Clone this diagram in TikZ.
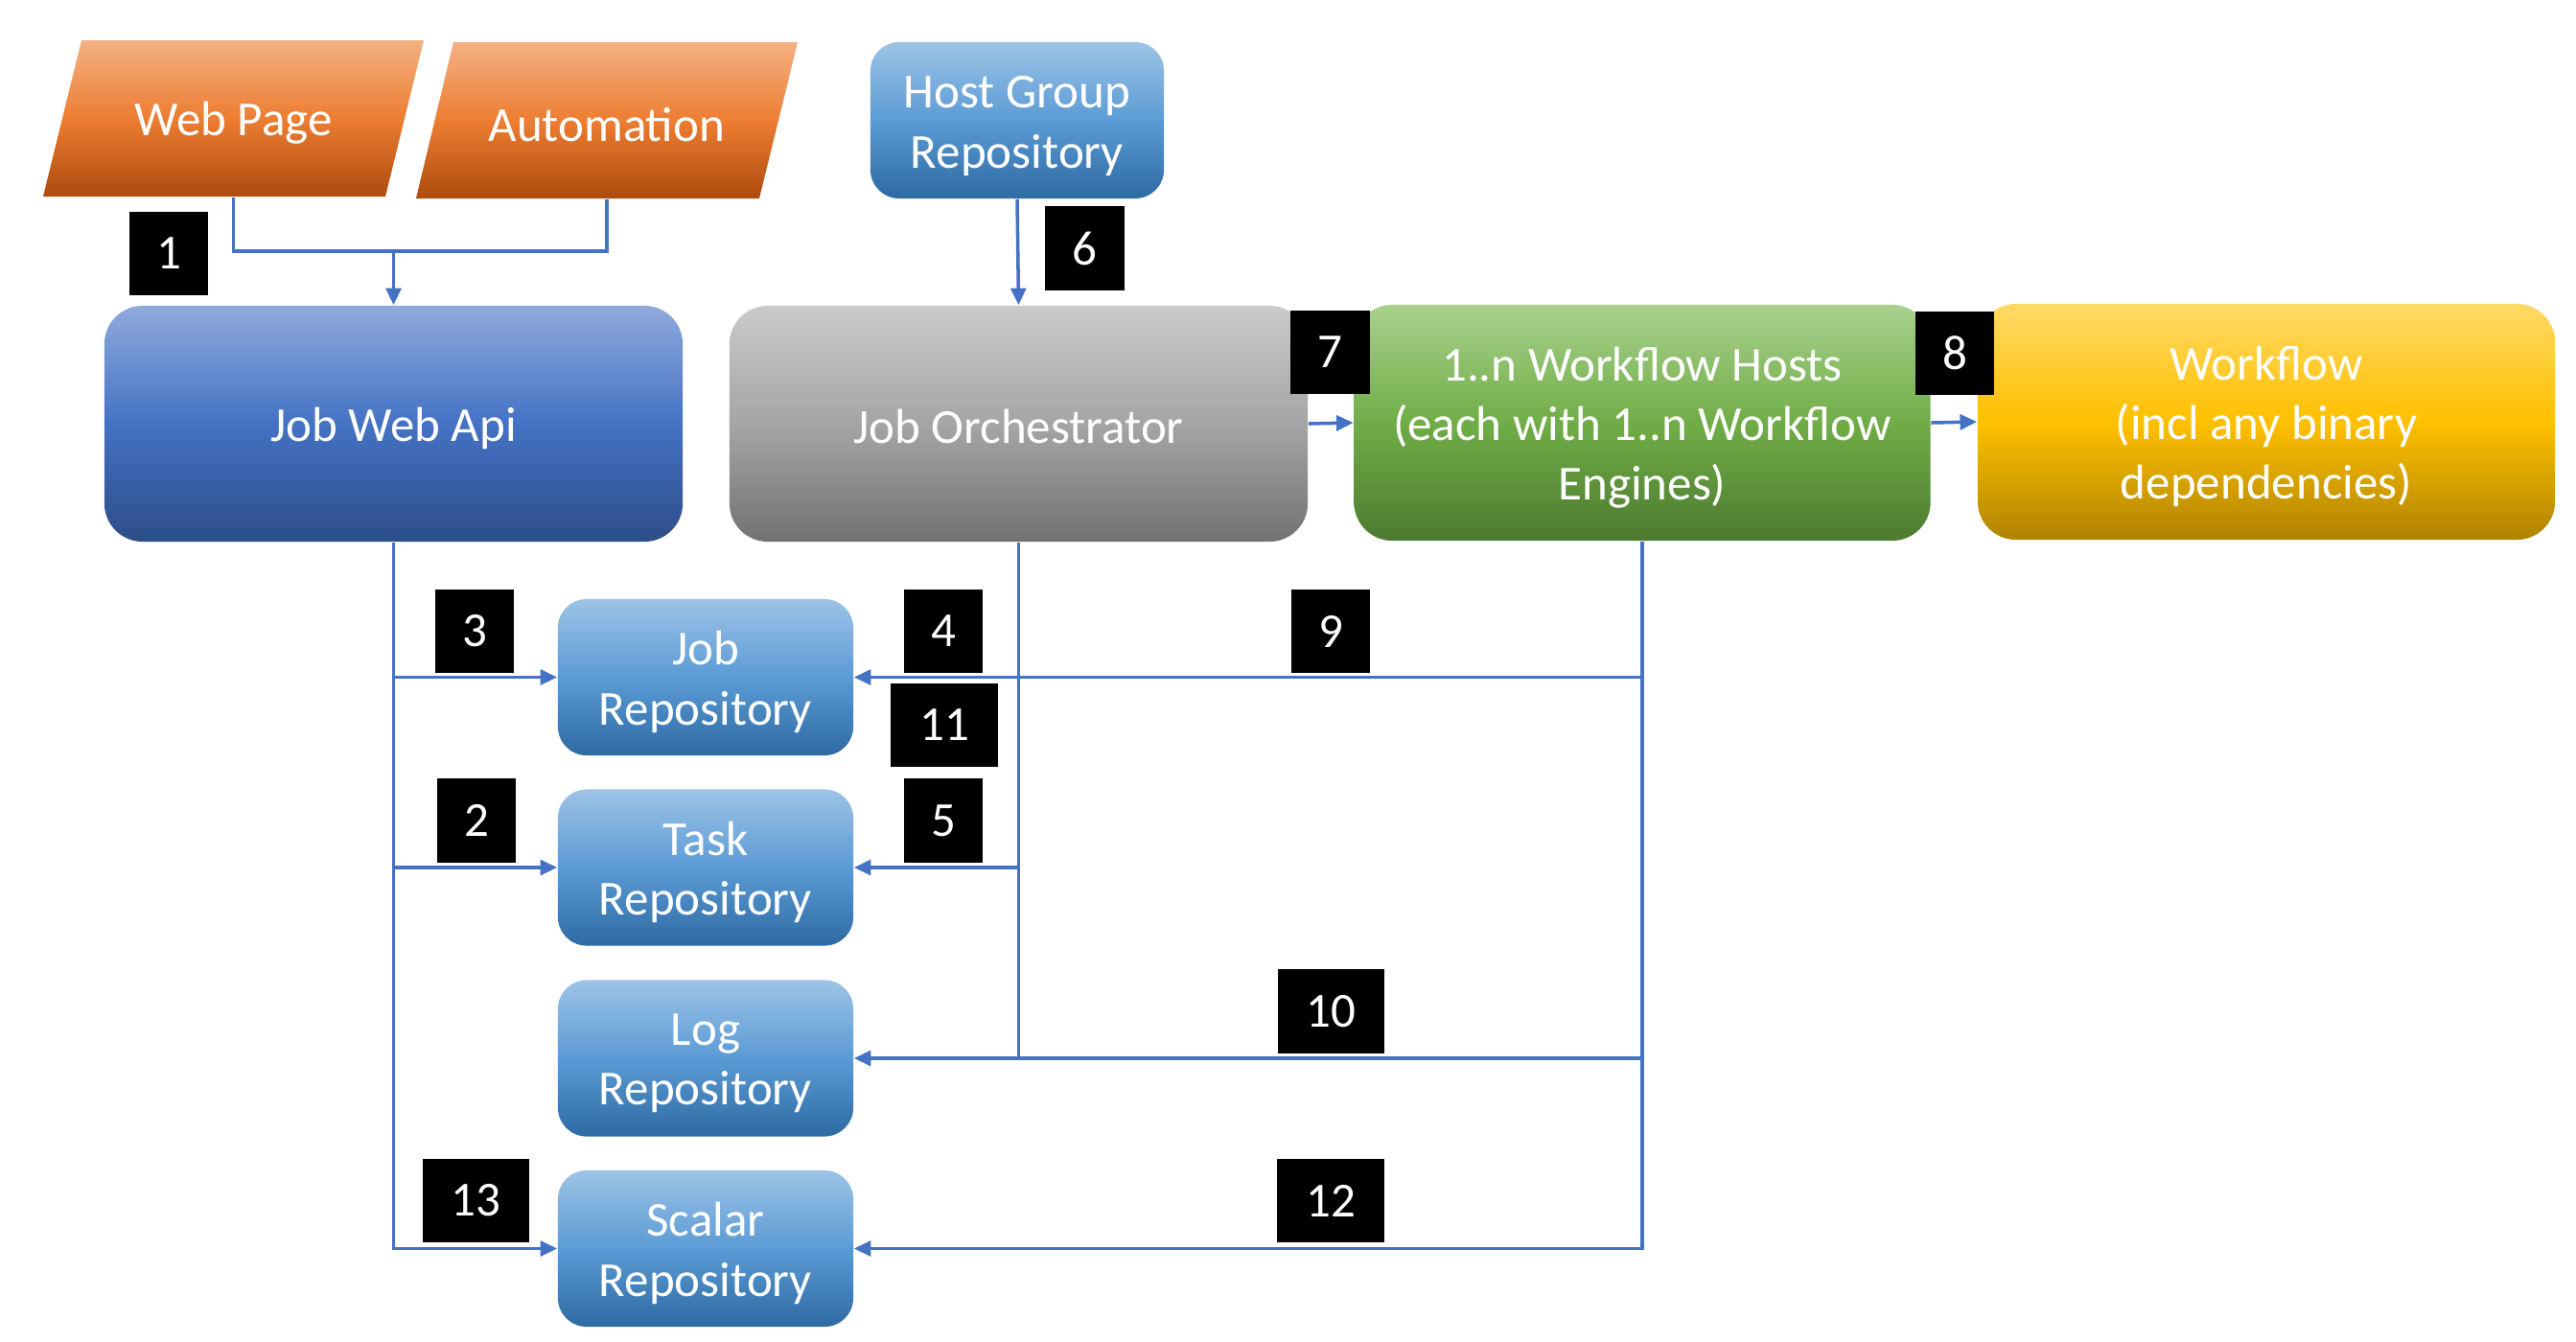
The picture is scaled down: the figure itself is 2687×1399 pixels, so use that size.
\documentclass[tikz,border=0pt]{standalone}
\usepackage{fontspec}
\setmainfont{Carlito}
\usetikzlibrary{arrows.meta}
\definecolor{ln}{HTML}{4472C4}
\definecolor{orT}{HTML}{F4B183}\definecolor{orM}{HTML}{ED7D31}\definecolor{orB}{HTML}{AE4B0E}
\definecolor{bdT}{HTML}{8FAADC}\definecolor{bdM}{HTML}{4472C4}\definecolor{bdB}{HTML}{2C4D88}
\definecolor{lbT}{HTML}{9DC3E6}\definecolor{lbM}{HTML}{5B9BD5}\definecolor{lbB}{HTML}{2E6AA3}
\definecolor{grT}{HTML}{CACACA}\definecolor{grM}{HTML}{A5A5A5}\definecolor{grB}{HTML}{727272}
\definecolor{gnT}{HTML}{A9D18E}\definecolor{gnM}{HTML}{70AD47}\definecolor{gnB}{HTML}{4C7A2F}
\definecolor{ywT}{HTML}{FFD966}\definecolor{ywM}{HTML}{FFC000}\definecolor{ywB}{HTML}{AF8300}
\begin{document}
\begin{tikzpicture}[x=0.01cm,y=-0.01cm,
  txt/.style={text=white, align=center, font=\fontsize{14.5}{17.7}\selectfont, inner sep=0pt},
  bigbox/.style={rounded corners=0.4cm, minimum width=6.03cm, minimum height=2.46cm},
  repo/.style={rounded corners=0.3cm, top color=lbT, bottom color=lbB, middle color=lbM, minimum width=3.08cm, minimum height=1.63cm},
  num/.style={fill=black, text=white, font=\fontsize{14.5}{17.7}\selectfont, inner sep=0pt, minimum height=0.87cm, minimum width=0.82cm},
  numw/.style={num, minimum width=1.11cm},
  conn/.style={draw=ln, line width=1pt},
  arr/.style={conn, -{Triangle[length=5pt,width=4.5pt]}}]
\fill[white] (0,0) rectangle (2687,1399);
\useasboundingbox (0,0) rectangle (2687,1399);

% input parallelograms
\shade[top color=orT, bottom color=orB, middle color=orM] (85,42) -- (442,42) -- (402,205) -- (45,205) -- cycle;
\node[minimum width=3.57cm, minimum height=1.63cm] (web) at (243.5,123.5) {};
\shade[top color=orT, bottom color=orB, middle color=orM] (473,44) -- (832,44) -- (792,207) -- (434,207) -- cycle;
\node[minimum width=3.58cm, minimum height=1.63cm] (auto) at (632.75,125.5) {};

% top row
\node[repo, minimum width=3.06cm] (hg) at (1061,125.5) {};
\node[bigbox, top color=bdT, bottom color=bdB, middle color=bdM] (api) at (410.5,442) {};
\node[bigbox, top color=grT, bottom color=grB, middle color=grM] (orch) at (1062.5,442) {};
\node[bigbox, minimum width=6.01cm, top color=gnT, bottom color=gnB, middle color=gnM] (wfh) at (1713,441) {};
\node[bigbox, minimum width=6.02cm, top color=ywT, bottom color=ywB, middle color=ywM] (wf) at (2364,440) {};

% repositories
\node[repo] (jobrepo) at (736,706.5) {};
\node[repo] (taskrepo) at (736,905) {};
\node[repo] (logrepo) at (736,1104) {};
\node[repo] (scalrepo) at (736,1302.5) {};

% texts
\node[txt] (web-t) at ([yshift=-0.05cm]web.center) {Web Page};
\node[txt] (auto-t) at ([yshift=-0.05cm]auto.center) {Automation};
\node[txt] (hg-t) at ([yshift=-0.06cm]hg.center) {Host Group\\Repository};
\node[txt] (api-t) at ([yshift=-0.05cm]api.center) {Job Web Api};
\node[txt] (orch-t) at ([yshift=-0.03cm]orch.center) {Job Orchestrator};
\node[txt] (wfh-t) at ([yshift=-0.05cm]wfh.center) {1..n Workflow Hosts\\(each with 1..n Workflow\\Engines)};
\node[txt] (wf-t) at ([yshift=-0.05cm]wf.center) {Workflow\\(incl any binary\\dependencies)};
\node[txt] (jobrepo-t) at ([yshift=-0.05cm]jobrepo.center) {Job\\Repository};
\node[txt] (taskrepo-t) at ([yshift=-0.05cm]taskrepo.center) {Task\\Repository};
\node[txt] (logrepo-t) at ([yshift=-0.05cm]logrepo.center) {Log\\Repository};
\node[txt] (scalrepo-t) at ([yshift=-0.05cm]scalrepo.center) {Scalar\\Repository};

% connectors
\coordinate (j1) at (410.5,262);
\draw[conn] (web.south) |- (j1) -| (auto.south);
\draw[arr] (j1) -- (api.north);
\draw[arr] (hg.south) -- (orch.north);
\draw[arr] (orch.east) -- (wfh.west);
\draw[arr] (wfh.east) -- (wf.west);

\draw[arr] (api.south) |- (scalrepo.west);
\draw[arr] (api.south |- jobrepo.west) -- (jobrepo.west);
\draw[arr] (api.south |- taskrepo.west) -- (taskrepo.west);

\draw[arr] (orch.south) |- (logrepo.east);
\draw[arr] (orch.south |- taskrepo.east) -- (taskrepo.east);

\draw[arr] (wfh.south) |- (scalrepo.east);
\draw[arr] (wfh.south |- jobrepo.east) -- (jobrepo.east);
\draw[conn] (wfh.south |- logrepo.east) -- (orch.south |- logrepo.east);

% number labels
\node[num] (n1) at (176,264.5) {1};
\node[num] (n6) at (1131.5,259) {6};
\node[num] (n7) at (1387.5,367.5) {7};
\node[num] (n8) at (2039,368.5) {8};
\node[num] (n3) at (495,658.5) {3};
\node[num] (n4) at (984,658.5) {4};
\node[num] (n9) at (1388,658.5) {9};
\node[numw] (n11) at (985,756.5) {11};
\node[num] (n2) at (497,856) {2};
\node[num] (n5) at (984,856) {5};
\node[numw] (n10) at (1388.5,1055) {10};
\node[numw] (n13) at (496.5,1252.5) {13};
\node[numw] (n12) at (1388,1252.5) {12};
\end{tikzpicture}
\end{document}
